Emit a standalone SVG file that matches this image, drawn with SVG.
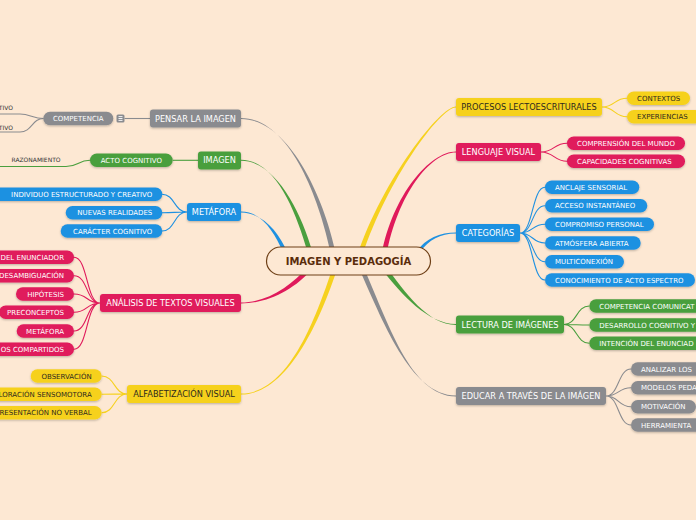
<svg xmlns="http://www.w3.org/2000/svg" width="696" height="520" viewBox="0 0 696 520">
<defs>
<filter id="sh" x="-10%" y="-30%" width="120%" height="170%"><feDropShadow dx="0" dy="1" stdDeviation="0.8" flood-color="#000" flood-opacity="0.25"/></filter>
<style>
text{font-family:"DejaVu Sans","Liberation Sans",sans-serif}
.m{font-size:8.2px;fill:#fff;text-anchor:middle}
.c{font-size:7px;fill:#fff}
.dk{fill:#2e2a1e}
.e{text-anchor:end}
.mid{text-anchor:middle}
.u{font-size:6px;fill:#333}
.mr{filter:url(#sh)}
.gy{fill:#8a8b8f}.gn{fill:#4a9f3e}.bl{fill:#1f91e1}.pk{fill:#e01a5b}.yl{fill:#f6d11f}
.lgy{stroke:#8a8b8f}.lgn{stroke:#4a9f3e}.lbl{stroke:#1f91e1}.lpk{stroke:#e01a5b}.lyl{stroke:#f6d11f}
.ln{fill:none;stroke-width:1.1}
</style>
</defs>
<rect width="696" height="520" fill="#fde8d3"/>
<g id="connectors">
<path class="gy" d="M241,118 C290,118 319.5,200 330.5,252 L335.5,252 C324.5,200 290,119 241,119 Z"/>
<path class="gn" d="M241,159.7 C275,159.7 295.5,210 307.5,252 L312.5,252 C300.5,210 275,160.7 241,160.7 Z"/>
<path class="bl" d="M241,211.5 C262,211.5 274,232 283,252 L287,252 C279,232 262,212.5 241,212.5 Z"/>
<path class="pk" d="M241,302.5 C268,302.5 291,285.5 308.5,266.5 L311.5,269.5 C295,289 268,303.5 241,303.5 Z"/>
<path class="yl" d="M241,393.5 C288,393.5 315.5,320 333.5,265 L338.5,265 C320.5,320 288,394.5 241,394.5 Z"/>
<path class="yl" d="M456,106.5 C440,106.5 382.5,180 357.5,255 L362.5,255 C387.5,180 440,107.5 456,107.5 Z"/>
<path class="pk" d="M456,151.5 C430,151.5 392.5,195 381.5,255 L386.5,255 C397.5,195 430,152.5 456,152.5 Z"/>
<path class="bl" d="M456,232.5 C440,232.5 426,238 416,252 L420,252 C429,240 440,233.5 456,233.5 Z"/>
<path class="gn" d="M456,324 C428,324 401.5,294.5 382,269.5 L386,266.5 C404.5,291.5 428,325 456,325 Z"/>
<path class="gy" d="M456,395.5 C410,395.5 382.5,320 357.5,265 L362.5,265 C387.5,320 410,396.5 456,396.5 Z"/>
<path class="ln lgy" d="M124.5,118.5 L150,118.5"/>
<path class="ln lgy" d="M43.5,118.5 C33,118.5 30,114 20,114 L0,114"/>
<path class="ln lgy" d="M43.5,118.5 C32,118.5 32,132 20,132 L0,132"/>
<path class="ln lgn" d="M173,160.3 L198,160.3"/>
<path class="ln lgn" d="M90,160.3 C78,160.3 78,166.5 66,166.5 L0,166.5"/>
<path class="ln lbl" d="M187,212 C174,212 175,194.2 162,194.2 M187,212 C174,212 175,212.7 162,212.7 M187,212 C174,212 175,231 162,231"/>
<path class="ln lpk" d="M100,303 C86,303 88,257.3 74,257.3 M100,303 C86,303 88,275.7 74,275.7 M100,303 C86,303 88,294 74,294 M100,303 C86,303 88,312.3 74,312.3 M100,303 C86,303 88,331 74,331 M100,303 C86,303 88,349.3 74,349.3"/>
<path class="ln lyl" d="M127,394 C114,394 115,376 101.7,376 M127,394 C114,394 115,394.3 101.7,394.3 M127,394 C114,394 115,412.7 101.7,412.7"/>
<path class="ln lyl" d="M602,107 C615,107 614,98.3 627,98.3 M602,107 C615,107 614,116.7 627,116.7"/>
<path class="ln lpk" d="M541,152 C554,152 554,143.2 567,143.2 M541,152 C554,152 554,161.2 567,161.2"/>
<path class="ln lbl" d="M520,233 C533,233 532,187.3 545,187.3 M520,233 C533,233 532,205.7 545,205.7 M520,233 C533,233 532,224.3 545,224.3 M520,233 C533,233 532,243 545,243 M520,233 C533,233 532,261.7 545,261.7 M520,233 C533,233 532,280 545,280"/>
<path class="ln lgn" d="M564,324.5 C577,324.5 576,306 589.3,306 M564,324.5 C577,324.5 576,325 589.3,325 M564,324.5 C577,324.5 576,343.3 589.3,343.3"/>
<path class="ln lgy" d="M606,396 C619,396 618,369 631,369 M606,396 C619,396 618,387.7 631,387.7 M606,396 C619,396 618,406.7 631,406.7 M606,396 C619,396 618,425 631,425"/>
</g>
<g id="center">
<rect x="266.5" y="247" width="164" height="28" rx="14" fill="#fde8d3" stroke="#6e3f16" stroke-width="1.2"/>
<text x="348.5" y="264.6" text-anchor="middle" font-size="10" font-weight="bold" fill="#5a2c0b">IMAGEN Y PEDAGOGÍA</text>
</g>
<g id="pensar"><rect class="gy mr" x="150" y="109.5" width="91" height="18" rx="3"/><text class="m" x="195.5" y="121.5">PENSAR LA IMAGEN</text></g>
<g id="competencia"><rect class="gy mr" x="43.3" y="111.8" width="70" height="13.5" rx="6.75"/><text class="c mid" x="78.3" y="121">COMPETENCIA</text>
<rect class="gy" x="116.5" y="114.5" width="8" height="8" rx="1.5"/><path d="M118.5,116.6 H122.5 M118.5,118.5 H122.5 M118.5,120.4 H122.5" stroke="#fff" stroke-width="0.9"/></g>
<g id="tivo1"><text class="u e" x="13" y="110.4">TIVO</text></g>
<g id="tivo2"><text class="u e" x="13" y="129.5">TIVO</text></g>
<g id="imagen"><rect class="gn mr" x="198" y="151.5" width="43" height="18" rx="3"/><text class="m" x="219.5" y="163.4">IMAGEN</text></g>
<g id="acto"><rect class="gn mr" x="90" y="153.5" width="82.7" height="13.5" rx="6.75"/><text class="c mid" x="131.3" y="162.8">ACTO COGNITIVO</text></g>
<g id="razonamiento"><text class="u mid" x="36" y="162.2">RAZONAMIENTO</text></g>
<g id="metafora"><rect class="bl mr" x="187" y="203" width="54" height="18" rx="3"/><text class="m" x="214" y="215">METÁFORA</text></g>
<g id="individuo"><rect class="bl mr" x="-10" y="187.5" width="172.3" height="13.5" rx="6.75"/><text class="c e" x="152.3" y="196.7">INDIVIDUO ESTRUCTURADO Y CREATIVO</text></g>
<g id="nuevas"><rect class="bl mr" x="65.7" y="206" width="96.6" height="13.5" rx="6.75"/><text class="c e" x="152.3" y="215.2">NUEVAS REALIDADES</text></g>
<g id="caracter"><rect class="bl mr" x="60.7" y="224.3" width="101.6" height="13.5" rx="6.75"/><text class="c e" x="152.3" y="233.5">CARÁCTER COGNITIVO</text></g>
<g id="analisis"><rect class="pk mr" x="100" y="294" width="141" height="18" rx="3"/><text class="m" x="170.5" y="306">ANÁLISIS DE TEXTOS VISUALES</text></g>
<g id="a1"><rect class="pk mr" x="-10" y="250.5" width="84" height="13.5" rx="6.75"/><text class="c e" x="64" y="259.8">DEL ENUNCIADOR</text></g>
<g id="a2"><rect class="pk mr" x="-10" y="269" width="84" height="13.5" rx="6.75"/><text class="c e" x="64" y="278.2">DESAMBIGUACIÓN</text></g>
<g id="a3"><rect class="pk mr" x="16" y="287.3" width="58" height="13.5" rx="6.75"/><text class="c e" x="64" y="296.5">HIPÓTESIS</text></g>
<g id="a4"><rect class="pk mr" x="-1" y="305.6" width="75" height="13.5" rx="6.75"/><text class="c e" x="64" y="314.8">PRECONCEPTOS</text></g>
<g id="a5"><rect class="pk mr" x="16.7" y="324.3" width="57.3" height="13.5" rx="6.75"/><text class="c e" x="64" y="333.5">METÁFORA</text></g>
<g id="a6"><rect class="pk mr" x="-10" y="342.6" width="84" height="13.5" rx="6.75"/><text class="c e" x="64" y="351.8">OS COMPARTIDOS</text></g>
<g id="alfabetizacion"><rect class="yl mr" x="127" y="385" width="114" height="18" rx="3"/><text class="m dk" x="184" y="397">ALFABETIZACIÓN VISUAL</text></g>
<g id="f1"><rect class="yl mr" x="30.7" y="369.3" width="71" height="13.5" rx="6.75"/><text class="c dk e" x="91.7" y="378.5">OBSERVACIÓN</text></g>
<g id="f2"><rect class="yl mr" x="-10" y="387.6" width="111.7" height="13.5" rx="6.75"/><text class="c dk e" x="91.7" y="396.8">LORACIÓN SENSOMOTORA</text></g>
<g id="f3"><rect class="yl mr" x="-10" y="406" width="111.7" height="13.5" rx="6.75"/><text class="c dk e" x="91.7" y="415.2">RESENTACIÓN NO VERBAL</text></g>
<g id="procesos"><rect class="yl mr" x="456" y="98" width="146" height="18" rx="3"/><text class="m dk" x="529" y="110">PROCESOS LECTOESCRITURALES</text></g>
<g id="contextos"><rect class="yl mr" x="627" y="91.5" width="63" height="13.5" rx="6.75"/><text class="c dk" x="637" y="100.8">CONTEXTOS</text></g>
<g id="experiencias"><rect class="yl mr" x="627" y="110" width="75" height="13.5" rx="6.75"/><text class="c dk" x="637" y="119.2">EXPERIENCIAS</text></g>
<g id="lenguaje"><rect class="pk mr" x="456" y="143" width="85" height="18" rx="3"/><text class="m" x="498.5" y="155">LENGUAJE VISUAL</text></g>
<g id="comprension"><rect class="pk mr" x="567" y="136.5" width="118" height="13.5" rx="6.75"/><text class="c" x="577" y="145.7">COMPRENSIÓN DEL MUNDO</text></g>
<g id="capacidades"><rect class="pk mr" x="567" y="154.5" width="118" height="13.5" rx="6.75"/><text class="c" x="577" y="163.7">CAPACIDADES COGNITIVAS</text></g>
<g id="categorias"><rect class="bl mr" x="456" y="224" width="64" height="18" rx="3"/><text class="m" x="488" y="236">CATEGORÍAS</text></g>
<g id="c1"><rect class="bl mr" x="545" y="180.5" width="94.3" height="13.5" rx="6.75"/><text class="c" x="555" y="189.8">ANCLAJE SENSORIAL</text></g>
<g id="c2"><rect class="bl mr" x="545" y="199" width="102.3" height="13.5" rx="6.75"/><text class="c" x="555" y="208.2">ACCESO INSTANTÁNEO</text></g>
<g id="c3"><rect class="bl mr" x="545" y="217.5" width="109" height="13.5" rx="6.75"/><text class="c" x="555" y="226.8">COMPROMISO PERSONAL</text></g>
<g id="c4"><rect class="bl mr" x="545" y="236.2" width="95.7" height="13.5" rx="6.75"/><text class="c" x="555" y="245.5">ATMÓSFERA ABIERTA</text></g>
<g id="c5"><rect class="bl mr" x="545" y="255" width="79" height="13.5" rx="6.75"/><text class="c" x="555" y="264.2">MULTICONEXIÓN</text></g>
<g id="c6"><rect class="bl mr" x="545" y="273.2" width="150" height="13.5" rx="6.75"/><text class="c" x="555" y="282.5">CONOCIMIENTO DE ACTO ESPECTRO</text></g>
<g id="lectura"><rect class="gn mr" x="456" y="315.5" width="108" height="18" rx="3"/><text class="m" x="510" y="327.5">LECTURA DE IMÁGENES</text></g>
<g id="l1"><rect class="gn mr" x="589.3" y="299.2" width="120" height="13.5" rx="6.75"/><text class="c" x="599.3" y="308.5">COMPETENCIA COMUNICAT</text></g>
<g id="l2"><rect class="gn mr" x="589.3" y="318.2" width="120" height="13.5" rx="6.75"/><text class="c" x="599.3" y="327.5">DESARROLLO COGNITIVO Y</text></g>
<g id="l3"><rect class="gn mr" x="589.3" y="336.5" width="120" height="13.5" rx="6.75"/><text class="c" x="599.3" y="345.8">INTENCIÓN DEL ENUNCIAD</text></g>
<g id="educar"><rect class="gy mr" x="456" y="387" width="150" height="18" rx="3"/><text class="m" x="531" y="399">EDUCAR A TRAVÉS DE LA IMÁGEN</text></g>
<g id="e1"><rect class="gy mr" x="631" y="362.2" width="100" height="13.5" rx="6.75"/><text class="c" x="641" y="371.5">ANALIZAR LOS</text></g>
<g id="e2"><rect class="gy mr" x="631" y="381" width="100" height="13.5" rx="6.75"/><text class="c" x="641" y="390.2">MODELOS PEDA</text></g>
<g id="e3"><rect class="gy mr" x="631" y="400" width="65" height="13.5" rx="6.75"/><text class="c" x="641" y="409.2">MOTIVACIÓN</text></g>
<g id="e4"><rect class="gy mr" x="631" y="418.2" width="100" height="13.5" rx="6.75"/><text class="c" x="641" y="427.5">HERRAMIENTA</text></g>
</svg>
